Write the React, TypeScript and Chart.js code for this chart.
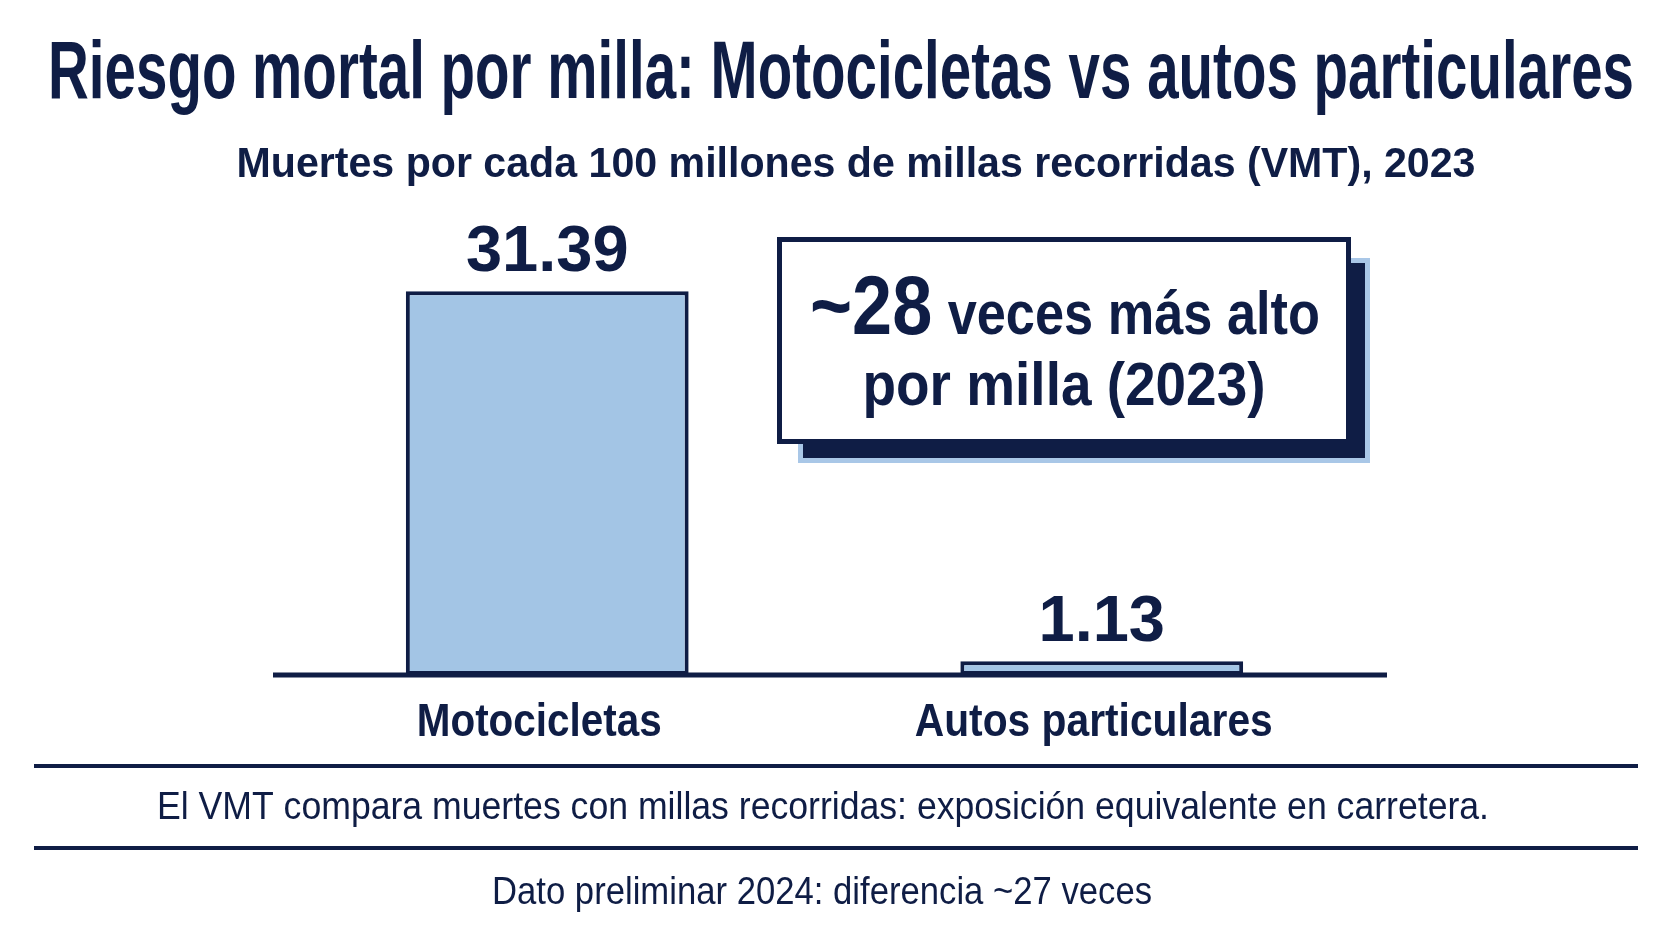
import React, { useEffect, useRef } from "react";
import { Chart, registerables } from "chart.js";

Chart.register(...registerables);

const categories = ["Motocicletas", "Autos particulares"];
const deathsPer100mVMT = [31.39, 1.13];
const titleText = "Riesgo mortal por milla: Motocicletas vs autos particulares";
const subtitleText = "Muertes por cada 100 millones de millas recorridas (VMT), 2023";
const calloutBig = "~28";
const calloutRest = "veces más alto";
const calloutLine2 = "por milla (2023)";
const noteText = "El VMT compara muertes con millas recorridas: exposición equivalente en carretera.";
const prelimText = "Dato preliminar 2024: diferencia ~27 veces";

const NAVY = "#0f1d45";
const BAR_FILL = "#a3c5e5";
const LIGHT = "#a9c7e7";
const FONT = "'Liberation Sans', Arial, sans-serif";

function fitText(
  ctx: CanvasRenderingContext2D,
  text: string,
  cx: number,
  y: number,
  font: string,
  target: number
) {
  ctx.save();
  ctx.font = font;
  const w = ctx.measureText(text).width;
  const s = target / w;
  ctx.translate(cx, y);
  ctx.scale(s, 1);
  ctx.textAlign = "center";
  ctx.textBaseline = "alphabetic";
  ctx.fillText(text, 0, 0);
  ctx.restore();
}

const decorPlugin = {
  id: "decor",
  beforeDraw(chart: any) {
    const ctx = chart.ctx as CanvasRenderingContext2D;
    ctx.save();
    ctx.fillStyle = "#ffffff";
    ctx.fillRect(0, 0, chart.width, chart.height);
    ctx.restore();
  },
  afterDatasetsDraw(chart: any) {
    const ctx = chart.ctx as CanvasRenderingContext2D;
    const xs = chart.scales.x;
    const ys = chart.scales.y;
    const y0 = ys.getPixelForValue(0);
    ctx.save();
    // baseline axis
    ctx.strokeStyle = NAVY;
    ctx.lineWidth = 5;
    ctx.beginPath();
    ctx.moveTo(273, y0);
    ctx.lineTo(1387, y0);
    ctx.stroke();

    ctx.fillStyle = NAVY;
    // value labels
    const meta = chart.getDatasetMeta(0);
    meta.data.forEach((bar: any, i: number) => {
      ctx.font = `bold 65px ${FONT}`;
      ctx.textAlign = "center";
      ctx.textBaseline = "alphabetic";
      ctx.fillText(deathsPer100mVMT[i].toFixed(2), bar.x, bar.y - 20);
    });
    // category labels
    const catWidths = [245, 358];
    categories.forEach((c, i) => {
      const x = xs.getPixelForValue(i) - 8;
      fitText(ctx, c, x, 736, `bold 47px ${FONT}`, catWidths[i]);
    });

    // title & subtitle
    fitText(ctx, titleText, 841, 98, `bold 81px ${FONT}`, 1586);
    fitText(ctx, subtitleText, 856, 177, `bold 42px ${FONT}`, 1239);

    // callout box
    const bx = 777, by = 237, bw = 574, bh = 207;
    ctx.fillStyle = LIGHT;
    ctx.fillRect(bx + 21, by + 21, bw - 21 + 19, bh - 21 + 19);
    ctx.fillStyle = NAVY;
    ctx.fillRect(bx + 26, by + 26, bw - 26 + 14, bh - 26 + 14);
    ctx.fillStyle = "#ffffff";
    ctx.fillRect(bx, by, bw, bh);
    ctx.strokeStyle = NAVY;
    ctx.lineWidth = 5;
    ctx.strokeRect(bx + 2.5, by + 2.5, bw - 5, bh - 5);

    // callout text line 1
    ctx.fillStyle = NAVY;
    ctx.font = `bold 84px ${FONT}`;
    const w1 = ctx.measureText(calloutBig).width;
    ctx.font = `bold 61px ${FONT}`;
    const w2 = ctx.measureText(calloutRest).width;
    const gap = 18;
    const s1 = 510 / (w1 + gap + w2);
    ctx.save();
    ctx.translate(810, 334);
    ctx.scale(s1, 1);
    ctx.textAlign = "left";
    ctx.font = `bold 84px ${FONT}`;
    ctx.fillText(calloutBig, 0, 0);
    ctx.font = `bold 61px ${FONT}`;
    ctx.fillText(calloutRest, w1 + gap, 0);
    ctx.restore();
    fitText(ctx, calloutLine2, 1064, 405, `bold 62px ${FONT}`, 403);

    // rules
    ctx.strokeStyle = NAVY;
    ctx.lineWidth = 4;
    ctx.beginPath();
    ctx.moveTo(34, 766);
    ctx.lineTo(1638, 766);
    ctx.moveTo(34, 848);
    ctx.lineTo(1638, 848);
    ctx.stroke();

    // footer text
    ctx.fillStyle = NAVY;
    fitText(ctx, noteText, 823, 819, `38px ${FONT}`, 1332);
    fitText(ctx, prelimText, 822, 904, `38px ${FONT}`, 660);
    ctx.restore();
  },
};

export default function App() {
  const ref = useRef<HTMLCanvasElement | null>(null);
  useEffect(() => {
    document.body.style.margin = "0";
    const canvas = ref.current!;
    const chart = new Chart(canvas, {
      type: "bar",
      data: {
        labels: categories,
        datasets: [
          {
            data: deathsPer100mVMT,
            backgroundColor: BAR_FILL,
            borderColor: NAVY,
            borderWidth: 4,
            borderSkipped: false,
            barPercentage: 0.51,
            categoryPercentage: 1,
          },
        ],
      },
      options: {
        responsive: false,
        animation: false,
        devicePixelRatio: 1,
        layout: { padding: { left: 270, right: 293, top: 186, bottom: 266 } },
        plugins: {
          legend: { display: false },
          tooltip: { enabled: false },
          title: { display: false },
        },
        scales: {
          x: { display: false },
          y: { display: false, min: 0, max: 40 },
        },
      },
      plugins: [decorPlugin],
    });
    return () => chart.destroy();
  }, []);
  return (
    <div style={{ position: "absolute", left: 0, top: 0, width: 1672, height: 941 }}>
      <canvas ref={ref} width={1672} height={941} style={{ width: 1672, height: 941, display: "block" }} />
    </div>
  );
}
